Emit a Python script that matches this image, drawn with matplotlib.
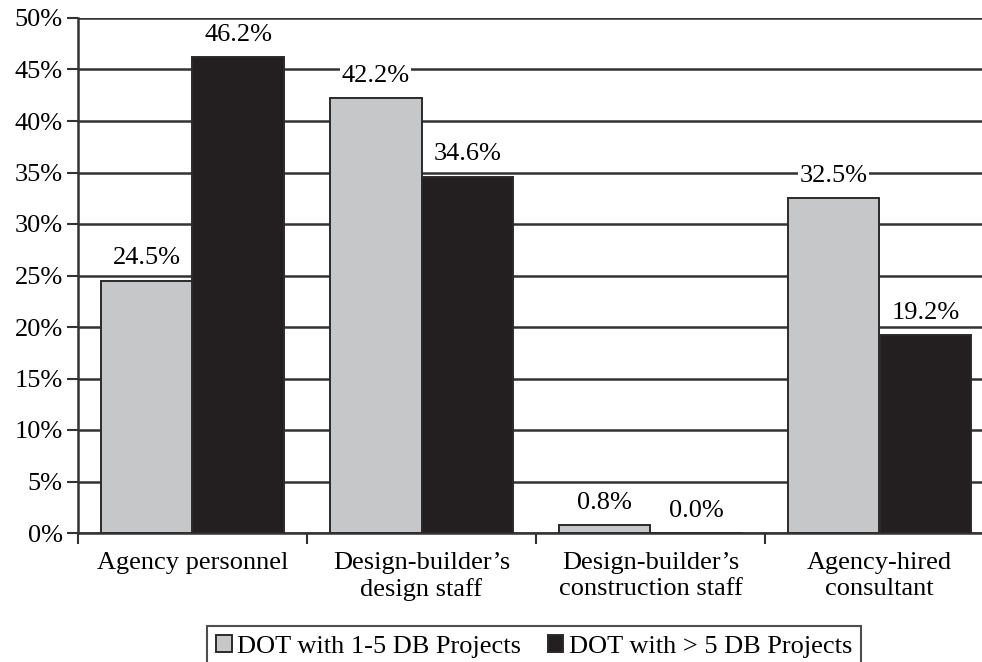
import numpy as np
import matplotlib
matplotlib.use("Agg")
import matplotlib.pyplot as plt

categories = ["Agency personnel", "Design-builder\u2019s\ndesign staff",
              "Design-builder\u2019s\nconstruction staff", "Agency-hired\nconsultant"]
few_db = [24.5, 42.2, 0.8, 32.5]       # DOT with 1-5 DB Projects
many_db = [46.2, 34.6, 0.0, 19.2]      # DOT with > 5 DB Projects
series_names = ["DOT with 1-5 DB Projects", "DOT with > 5 DB Projects"]

plt.rcParams["font.family"] = ["Liberation Serif", "DejaVu Serif"]
plt.rcParams["font.size"] = 19

W, H = 982, 662
fig = plt.figure(figsize=(W / 100, H / 100), dpi=100)
# plot area runs past the right edge of the figure
ax = fig.add_axes([78 / W, (H - 533) / H, (994 - 78) / W, (533 - 18) / H])

x = np.arange(len(categories))
bw = 0.4
gray, dark = "#c6c7c9", "#231f20"
b1 = ax.bar(x + 0.5 - bw / 2, few_db, bw, color=gray, edgecolor="#2a2a2a",
            linewidth=1.4, zorder=3, label=series_names[0])
b2 = ax.bar(x + 0.5 + bw / 2, many_db, bw, color=dark, edgecolor="#2a2a2a",
            linewidth=1.4, zorder=3, label=series_names[1])

for bars, vals in ((b1, few_db), (b2, many_db)):
    for rect, v in zip(bars, vals):
        ax.annotate(f"{v:.1f}%", (rect.get_x() + rect.get_width() / 2, v),
                    xytext=(0, 16), textcoords="offset points", ha="center",
                    va="center", zorder=4,
                    bbox=dict(boxstyle="square,pad=0.05", fc="white", ec="none"))

ax.set_xlim(0, len(categories))
ax.set_ylim(0, 50)
ax.set_yticks(np.arange(0, 51, 5))
ax.set_yticklabels([f"{t}%" for t in range(0, 51, 5)])
ax.set_xticks(np.arange(0, len(categories) + 1))
ax.set_xticklabels([])
ax.set_xticks(x + 0.5, minor=True)
ax.set_xticklabels(categories, minor=True)
ax.tick_params(axis="x", which="minor", length=0, pad=14)
ax.tick_params(axis="x", which="major", length=8, width=1.5, color="#333333")
ax.tick_params(axis="y", length=8, width=1.5, color="#333333", pad=3)
for lbl in ax.get_xticklabels(minor=True):
    lbl.set_multialignment("center")
    lbl.set_linespacing(1.2)

ax.yaxis.grid(True, color="#333333", linewidth=1.8, zorder=0)
ax.set_axisbelow(True)
for side in ("top", "right"):
    ax.spines[side].set_visible(False)
for side in ("left", "bottom"):
    ax.spines[side].set_color("#333333")
    ax.spines[side].set_linewidth(1.8)

leg = fig.legend(handles=[b1, b2], loc="upper center", ncol=2,
                 bbox_to_anchor=(534 / W, 1 - 626 / H), frameon=True,
                 fancybox=False, edgecolor="#222222", handlelength=0.6,
                 handleheight=0.6, handletextpad=0.2, columnspacing=1.0,
                 borderpad=0.35, borderaxespad=0.0, fontsize=19)
leg.get_frame().set_linewidth(1.5)

fig.savefig("out.png", dpi=100)
